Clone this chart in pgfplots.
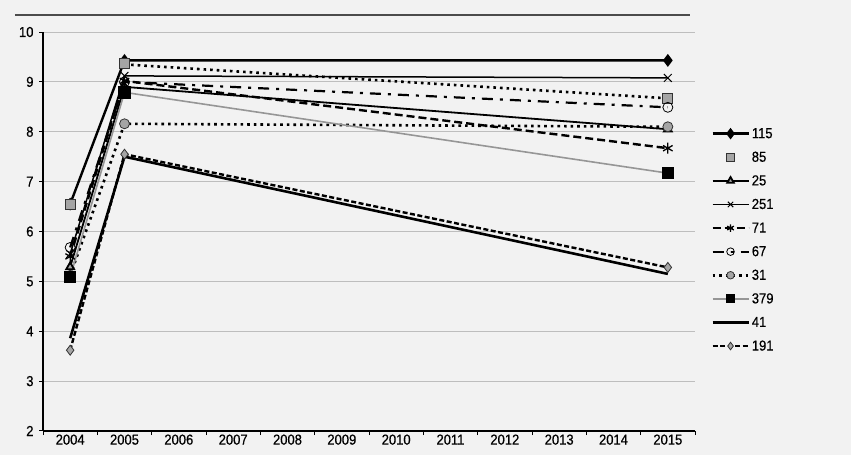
\documentclass[border=0pt]{standalone}
\usepackage{fontspec}
\setmainfont{Liberation Sans}[FakeStretch=0.9, FakeBold=0.5]
\usepackage{pgfplots}
\pgfplotsset{compat=1.18}
\definecolor{bg}{RGB}{242,242,242}
\definecolor{gridc}{RGB}{190,190,190}
\definecolor{markgray}{RGB}{165,165,165}
\definecolor{linegray}{RGB}{150,150,150}

\begin{document}
\begin{tikzpicture}
\fill[bg] (-43bp,-24bp) rectangle (808bp,431bp);
\draw[line width=1.3bp, black!70] (-28bp,416bp) -- (647bp,416bp);
\begin{axis}[
    at={(0,0)}, anchor=south west,
    scale only axis,
    width=652bp, height=399bp,
    xmin=-0.5, xmax=11.5,
    ymin=2, ymax=10,
    axis x line*=bottom, axis y line*=left,
    axis line style={line width=1.3bp},
    tick align=outside,
    major tick length=4bp,
    tick style={black, line width=1bp},
    xtick={-0.5,0.5,...,11.5},
    xticklabels={},
    extra x ticks={0,...,11},
    extra x tick labels={2004,2005,2006,2007,2008,2009,2010,2011,2012,2013,2014,2015},
    extra x tick style={major tick length=0pt},
    ytick={2,...,10},
    yticklabel style={xshift=-2bp},
    ymajorgrids=true,
    grid style={gridc, line width=0.8bp},
    tick label style={font=\fontsize{14.5}{16}\selectfont},
    /pgf/number format/assume math mode=true,
    legend cell align=left,
    legend style={at={(1.02,0.762)}, anchor=north west, draw=none, fill=none,
        font=\fontsize{14.5}{16}\selectfont,
        nodes={inner ysep=0pt, inner xsep=2bp, text height=9bp, text depth=0pt},
        row sep=14.6bp},
    legend image code/.code={
        \draw[mark repeat=2,mark phase=2,#1]
            plot coordinates {(0bp,0bp) (18bp,0bp) (36bp,0bp)};},
    legend image post style={mark size=3.8bp},
]
% 115
\addplot[black, line width=2.4bp, mark=diamond*, mark size=4.5bp,
    mark options={solid, fill=black}]
    coordinates {(0,6.55) (1,9.43) (11,9.43)};
% 85 (dotted line only between 2005 and 2015)
\addplot[black, line width=2.6bp, dash pattern=on 2.6bp off 4bp, forget plot]
    coordinates {(1,9.35) (11,8.67)};
\addplot[only marks, mark=square*, mark size=5bp,
    mark options={fill=markgray, draw=black!80, line width=0.8bp}]
    coordinates {(0,6.55) (1,9.38) (11,8.67)};
% 25
\addplot[black, line width=1.8bp, mark=triangle*, mark size=4.5bp,
    mark options={solid, fill=markgray}]
    coordinates {(0,5.29) (1,8.9) (11,8.05)};
% 251
\addplot[black, line width=1.5bp, mark=x, mark size=5.5bp,
    mark options={solid, line width=1bp}]
    coordinates {(0,5.55) (1,9.12) (11,9.08)};
% 71
\addplot[black, line width=2.4bp, dash pattern=on 8bp off 4bp, mark=asterisk,
    mark size=5.5bp, mark options={solid, line width=1.3bp}]
    coordinates {(0,5.5) (1,9.02) (11,7.67)};
% 67
\addplot[black, line width=2.2bp, dash pattern=on 11bp off 7bp on 3bp off 7bp,
    mark=o, mark size=5bp, mark options={solid, fill=white, line width=0.8bp}]
    coordinates {(0,5.68) (1,9.0) (11,8.49)};
% 31
\addplot[black, line width=2.6bp, dash pattern=on 2.6bp off 4bp,
    mark=*, mark size=5bp, mark options={solid, fill=markgray, draw=black!80, line width=0.8bp}]
    coordinates {(0,5.12) (1,8.16) (11,8.1)};
% 379
\addplot[linegray, line width=1.6bp, mark=square*, mark size=5.5bp,
    mark options={solid, fill=black, draw=black}]
    coordinates {(0,5.09) (1,8.79) (11,7.17)};
% 41
\addplot[black, line width=2.6bp]
    coordinates {(0,3.86) (1,7.5) (11,5.15)};
% 191
\addplot[black, line width=2.4bp, dash pattern=on 5bp off 2.5bp, mark=diamond*,
    mark size=5bp, mark options={solid, fill=markgray, draw=black!80, line width=0.8bp}]
    coordinates {(0,3.62) (1,7.55) (11,5.28)};
\legend{115, 85, 25, 251, 71, 67, 31, 379, 41, 191}
\end{axis}
\end{tikzpicture}
\end{document}
